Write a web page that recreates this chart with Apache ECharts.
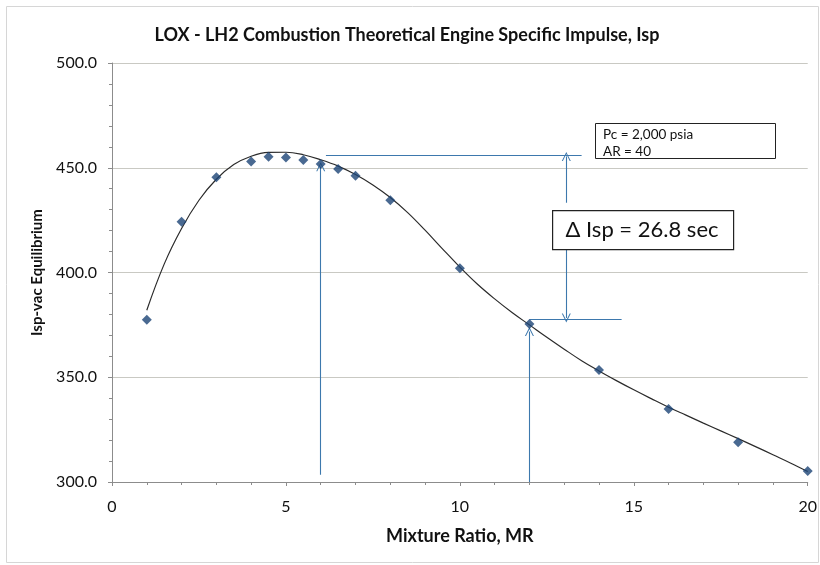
<!DOCTYPE html>
<html>
<head>
<meta charset="utf-8">
<script src="https://cdn.jsdelivr.net/npm/echarts@6/dist/echarts.min.js"></script>
<style>
html,body{margin:0;padding:0;background:#fff;}
#c{width:820px;height:565px;}
</style>
</head>
<body>
<div id="c"></div>
<script>
// ---- data ----
var titleText = 'LOX - LH2 Combustion Theoretical Engine Specific Impulse, Isp';
var xName = 'Mixture Ratio, MR';
var yName = 'Isp-vac Equilibrium';
var mixtureRatio = [1, 2, 3, 4, 4.5, 5, 5.5, 6, 6.5, 7, 8, 10, 12, 14, 16, 18, 20];
var ispPoints   = [377.4, 424.2, 445.5, 453.0, 455.2, 454.9, 453.7, 451.8, 449.4, 446.2, 434.5, 402.0, 375.4, 353.5, 334.9, 319.0, 305.3];
var fitX = [1, 1.5, 2, 2.5, 3, 3.5, 4, 4.5, 5, 5.5, 6, 6.5, 7, 7.5, 8, 8.5, 9, 9.5, 10, 10.5, 11, 11.5, 12, 12.5, 13, 13.5, 14, 14.5, 15, 15.5, 16, 16.5, 17, 17.5, 18, 18.5, 19, 19.5, 20];
var fitY = [382, 404, 421, 434.5, 444.5, 451.5, 455.5, 457.3, 457.4, 456.2, 453.8, 450.8, 446.8, 441.8, 435.8, 428.6, 420.2, 411.3, 402.6, 394.5, 387.4, 380.9, 375.0, 369.1, 363.4, 357.9, 353.0, 348.4, 344.0, 339.8, 335.7, 331.9, 328.1, 324.4, 320.7, 316.9, 313.0, 309.1, 305.0];
var yTicks = [300, 350, 400, 450, 500];
var xTicks = [0, 5, 10, 15, 20];
var noteLines = ['Pc = 2,000 psia', 'AR = 40'];
var deltaText = '\u0394 Isp = 26.8 sec';
// annotation segments in data units: [x1, y1, x2, y2]
var arrowSegs = [
  [6, 303.5, 6, 450.5],
  [12, 300, 12, 371.8],
  [13.06, 433.3, 13.06, 455.4],
  [13.06, 411.7, 13.06, 378.3]
];
var plainSegs = [
  [6.15, 455.8, 13.5, 455.8],
  [12, 377.8, 14.65, 377.8]
];

var FONT = 'Lato, "Open Sans", sans-serif';
var annColor = '#3d78ad';
var chevron = 'path://M0,10 L5,0 L10,10 L8.8,10 L5,2.4 L1.2,10 Z';

function segData(segs){
  return segs.map(function(s){ return [{coord:[s[0], s[1]]}, {coord:[s[2], s[3]]}]; });
}

var chart = echarts.init(document.getElementById('c'), null, {renderer:'canvas'});
chart.setOption({
  animation: false,
  backgroundColor: '#ffffff',
  textStyle: {fontFamily: FONT},
  title: {
    text: titleText,
    left: 402, top: 21, textAlign: 'center',
    textStyle: {fontFamily: FONT, fontSize: 18, fontWeight: 'bold', color: '#111'}
  },
  grid: {left: 112, right: 12, top: 63, bottom: 83},
  xAxis: {
    type: 'value', min: xTicks[0], max: xTicks[xTicks.length-1], interval: 5,
    name: xName, nameLocation: 'middle', nameGap: 45,
    nameTextStyle: {fontFamily: FONT, fontSize: 18, fontWeight: 'bold', color: '#111'},
    axisLine: {show: true, lineStyle: {color: '#8c8c8c', width: 1}},
    axisTick: {show: true, length: 4, lineStyle: {color: '#8c8c8c'}},
    minorTick: {show: true, splitNumber: 5, length: 3, lineStyle: {color: '#8c8c8c'}},
    axisLabel: {fontFamily: FONT, fontSize: 16, color: '#111', margin: 17},
    splitLine: {show: false}
  },
  yAxis: {
    type: 'value', min: yTicks[0], max: yTicks[yTicks.length-1], interval: 50,
    name: yName, nameLocation: 'middle', nameGap: 67, nameRotate: 90,
    nameTextStyle: {fontFamily: FONT, fontSize: 15, fontWeight: 'bold', color: '#111'},
    axisLine: {show: true, lineStyle: {color: '#8c8c8c', width: 1}},
    axisTick: {show: true, length: 4, lineStyle: {color: '#8c8c8c'}},
    minorTick: {show: true, splitNumber: 5, length: 3, lineStyle: {color: '#8c8c8c'}},
    axisLabel: {fontFamily: FONT, fontSize: 16, color: '#111', margin: 15,
      formatter: function(v){ return v.toFixed(1); }},
    splitLine: {show: true, lineStyle: {color: '#c9c9c3', width: 1}}
  },
  series: [
    {
      type: 'line', name: 'fit', smooth: 0.4, showSymbol: false, z: 3,
      data: fitX.map(function(x, i){ return [x, fitY[i]]; }),
      lineStyle: {color: '#2b2b2b', width: 1.2}
    },
    {
      type: 'scatter', name: 'points', symbol: 'diamond', symbolSize: 10, z: 5,
      data: mixtureRatio.map(function(x, i){ return [x, ispPoints[i]]; }),
      itemStyle: {color: '#1c4475'}
    },
    {
      type: 'line', name: 'arrows', data: [], z: 4,
      markLine: {
        silent: true, animation: false,
        symbol: ['none', chevron], symbolSize: [9, 9],
        label: {show: false},
        lineStyle: {color: annColor, width: 1.1, type: 'solid'},
        data: segData(arrowSegs)
      }
    },
    {
      type: 'line', name: 'plain', data: [], z: 4,
      markLine: {
        silent: true, animation: false,
        symbol: ['none', 'none'],
        label: {show: false},
        lineStyle: {color: annColor, width: 1.1, type: 'solid'},
        data: segData(plainSegs)
      }
    }
  ],
  graphic: [
    {type: 'rect', left: 4, top: 4, z: -1, silent: true,
     shape: {width: 812, height: 556}, style: {fill: 'none', stroke: '#d6d6d6', lineWidth: 1}},
    {type: 'rect', left: 595, top: 123, z: 10,
     shape: {width: 180, height: 35}, style: {fill: '#fff', stroke: '#222', lineWidth: 1}},
    {type: 'text', x: 603, y: 126, z: 11,
     style: {text: noteLines.join('\n'), fontFamily: FONT, fontSize: 13.5, lineHeight: 17, fill: '#111', align: 'left', verticalAlign: 'top'}},
    {type: 'rect', left: 552, top: 210, z: 10,
     shape: {width: 181, height: 39}, style: {fill: '#fff', stroke: '#222', lineWidth: 1.2}},
    {type: 'text', x: 642, y: 230, z: 11,
     style: {text: deltaText, fontFamily: FONT, fontSize: 22, fill: '#111', align: 'center', verticalAlign: 'middle'}}
  ]
});
</script>
</body>
</html>
